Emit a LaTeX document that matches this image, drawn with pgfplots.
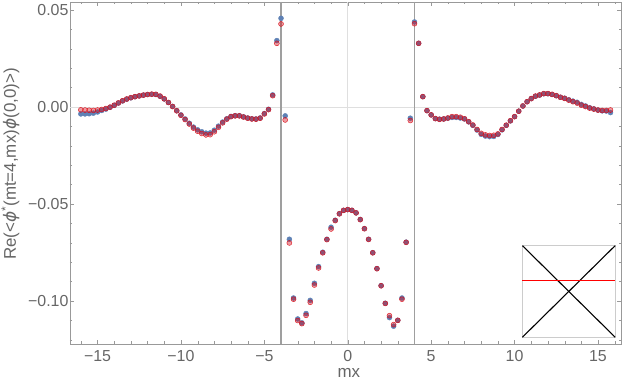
\documentclass[border=0pt]{standalone}
\usepackage{fontspec}
\setmainfont{Liberation Sans}
\newfontfamily\dejavu{DejaVu Sans}
\usepackage{pgfplots}
\usepackage{pgfplotstable}
\pgfplotsset{compat=1.18}
\definecolor{mblue}{rgb}{0.368,0.507,0.710}
\definecolor{mred}{rgb}{0.85,0.05,0.10}
\definecolor{framegray}{gray}{0.6}
\definecolor{textgray}{gray}{0.4}

% correlator, two runs
\pgfplotstableread{
x blue red
-16.00 -0.0036 -0.0015
-15.75 -0.0036 -0.0016
-15.50 -0.0035 -0.0017
-15.25 -0.0032 -0.0018
-15.00 -0.0026 -0.0016
-14.75 -0.0018 -0.0013
-14.50 -0.0011 -0.0008
-14.25 -0.0002 -0.0001
-14.00 0.0008 0.0009
-13.75 0.0020 0.0021
-13.50 0.0031 0.0032
-13.25 0.0040 0.0041
-13.00 0.0047 0.0048
-12.75 0.0053 0.0053
-12.50 0.0057 0.0057
-12.25 0.0061 0.0061
-12.00 0.0064 0.0064
-11.75 0.0065 0.0066
-11.50 0.0064 0.0065
-11.25 0.0055 0.0056
-11.00 0.0041 0.0042
-10.75 0.0023 0.0023
-10.50 0.0003 0.0002
-10.25 -0.0019 -0.0020
-10.00 -0.0041 -0.0043
-9.75 -0.0062 -0.0065
-9.50 -0.0084 -0.0088
-9.25 -0.0104 -0.0109
-9.00 -0.0118 -0.0125
-8.75 -0.0128 -0.0137
-8.50 -0.0135 -0.0144
-8.25 -0.0134 -0.0143
-8.00 -0.0120 -0.0128
-7.75 -0.0099 -0.0105
-7.50 -0.0078 -0.0082
-7.25 -0.0061 -0.0063
-7.00 -0.0049 -0.0050
-6.75 -0.0045 -0.0046
-6.50 -0.0045 -0.0046
-6.25 -0.0051 -0.0052
-6.00 -0.0057 -0.0058
-5.75 -0.0061 -0.0062
-5.50 -0.0062 -0.0063
-5.25 -0.0057 -0.0058
-5.00 -0.0034 -0.0036
-4.75 -0.0012 -0.0014
-4.50 0.0062 0.0058
-4.25 0.0342 0.0328
-4.00 0.0457 0.0428
-3.75 -0.0046 -0.0067
-3.50 -0.0682 -0.0701
-3.25 -0.0985 -0.0991
-3.00 -0.1093 -0.1101
-2.75 -0.1113 -0.1117
-2.50 -0.1065 -0.1074
-2.25 -0.0997 -0.1007
-2.00 -0.0909 -0.0918
-1.75 -0.0823 -0.0830
-1.50 -0.0749 -0.0752
-1.25 -0.0682 -0.0684
-1.00 -0.0620 -0.0629
-0.75 -0.0584 -0.0586
-0.50 -0.0550 -0.0551
-0.25 -0.0533 -0.0533
0.00 -0.0529 -0.0529
0.25 -0.0533 -0.0533
0.50 -0.0546 -0.0546
0.75 -0.0580 -0.0581
1.00 -0.0627 -0.0628
1.25 -0.0682 -0.0683
1.50 -0.0751 -0.0752
1.75 -0.0833 -0.0834
2.00 -0.0921 -0.0922
2.25 -0.1012 -0.1013
2.50 -0.1086 -0.1076
2.75 -0.1130 -0.1122
3.00 -0.1100 -0.1100
3.25 -0.0985 -0.0991
3.50 -0.0697 -0.0698
3.75 -0.0058 -0.0070
4.00 0.0438 0.0429
4.25 0.0328 0.0328
4.50 0.0053 0.0053
4.75 -0.0019 -0.0019
5.00 -0.0041 -0.0041
5.25 -0.0060 -0.0060
5.50 -0.0063 -0.0064
5.75 -0.0062 -0.0062
6.00 -0.0058 -0.0057
6.25 -0.0054 -0.0050
6.50 -0.0054 -0.0050
6.75 -0.0057 -0.0053
7.00 -0.0062 -0.0061
7.25 -0.0077 -0.0076
7.50 -0.0095 -0.0093
7.75 -0.0119 -0.0116
8.00 -0.0141 -0.0136
8.25 -0.0150 -0.0144
8.50 -0.0153 -0.0147
8.75 -0.0152 -0.0146
9.00 -0.0142 -0.0139
9.25 -0.0118 -0.0116
9.50 -0.0095 -0.0094
9.75 -0.0072 -0.0071
10.00 -0.0050 -0.0050
10.25 -0.0022 -0.0022
10.50 0.0005 0.0005
10.75 0.0027 0.0027
11.00 0.0043 0.0043
11.25 0.0055 0.0056
11.50 0.0061 0.0062
11.75 0.0068 0.0069
12.00 0.0068 0.0069
12.25 0.0064 0.0065
12.50 0.0058 0.0058
12.75 0.0050 0.0050
13.00 0.0045 0.0044
13.25 0.0037 0.0035
13.50 0.0030 0.0027
13.75 0.0024 0.0020
14.00 0.0013 0.0009
14.25 0.0005 0.0002
14.50 -0.0004 -0.0006
14.75 -0.0010 -0.0011
15.00 -0.0016 -0.0016
15.25 -0.0020 -0.0018
15.50 -0.0021 -0.0018
15.75 -0.0029 -0.0016
}\corr

\begin{document}
\begin{tikzpicture}
\begin{axis}[
  scale only axis,
  width=551bp, height=342bp,
  xmin=-16.65, xmax=16.38,
  ymin=-0.1222, ymax=0.0541,
  xtick={-15,-10,-5,0,5,10,15},
  xticklabels={−15,−10,−5,0,5,10,15},
  minor xtick={-16,-14,-13,-12,-11,-9,-8,-7,-6,-4,-3,-2,-1,1,2,3,4,6,7,8,9,11,12,13,14,16},
  ytick={-0.1,-0.05,0,0.05},
  yticklabels={−0.10,−0.05,0.00,0.05},
  minor ytick={-0.12,-0.11,-0.09,-0.08,-0.07,-0.06,-0.04,-0.03,-0.02,-0.01,0.01,0.02,0.03,0.04},
  major tick length=4bp, minor tick length=2.5bp,
  axis line style={framegray},
  tick style={framegray},
  tick label style={font=\fontsize{16}{19}\selectfont, text=textgray},
  xticklabel style={yshift=-3bp},
  yticklabel style={xshift=2bp},
  label style={font=\fontsize{17}{20}\selectfont, text=textgray},
  xlabel={mx},
  ylabel={Re(<{\dejavu\itshape ϕ}\textsuperscript{*}(mt=4,mx){\dejavu\itshape ϕ}(0,0)>)},
  xlabel style={at={(axis description cs:0.506,-0.086)}, anchor=center},
  ylabel style={at={(axis description cs:-0.108,0.526)}, anchor=center},
]
% axes through origin and the two source lines
\draw[gray!25, line width=0.8bp] (axis cs:0,-0.1222) -- (axis cs:0,0.0541);
\draw[gray!25, line width=0.8bp] (axis cs:-16.65,0) -- (axis cs:16.38,0);
\draw[gray!75, line width=1.2bp] (axis cs:-4,-0.1222) -- (axis cs:-4,0.0541);
\draw[gray!75, line width=1.2bp] (axis cs:4,-0.1222) -- (axis cs:4,0.0541);

\addplot[only marks, mark=*, mark size=2.5bp, mblue, mark options={draw=none, fill=mblue}]
  table[x=x, y=blue] {\corr};
\addplot[only marks, mark=*, mark size=2.5bp, mred, mark options={draw=none, fill=mred, fill opacity=0.42}]
  table[x=x, y=red] {\corr};

% small inset glyph in the corner
\draw[gray!40, line width=0.8bp] (axis cs:10.47,-0.1187) rectangle (axis cs:16.03,-0.0715);
\draw[black, line width=1.1bp] (axis cs:10.47,-0.1187) -- (axis cs:16.03,-0.0715);
\draw[black, line width=1.1bp] (axis cs:10.47,-0.0715) -- (axis cs:16.03,-0.1187);
\draw[red, line width=1.1bp] (axis cs:10.47,-0.0895) -- (axis cs:16.03,-0.0895);
\end{axis}
\pgfresetboundingbox
\path[use as bounding box] ([shift={(-70bp,-45bp)}]current axis.south west) rectangle ([shift={(2bp,2bp)}]current axis.north east);
\end{tikzpicture}
\end{document}
